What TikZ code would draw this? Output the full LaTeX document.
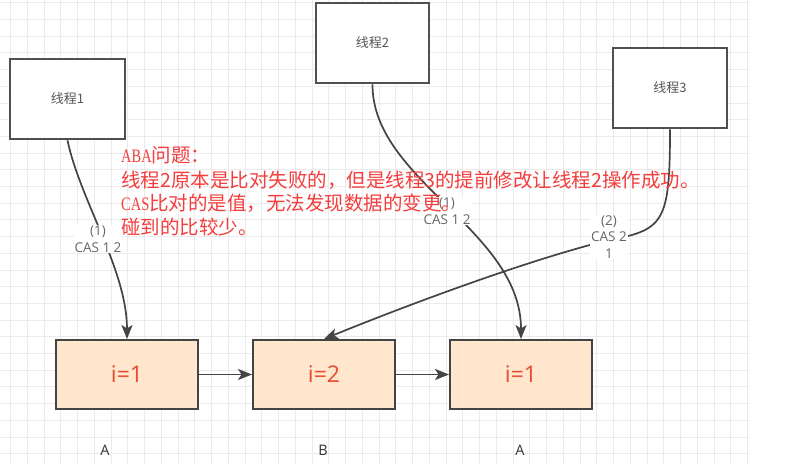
\documentclass[tikz,border=0pt]{standalone}
\usepackage{fontspec}
\setmainfont{Open Sans}
\newfontfamily\cjk{Noto Sans CJK SC}
\newfontfamily\latserif[FakeStretch=0.76]{Liberation Serif}
\usetikzlibrary{arrows.meta}
\definecolor{gridc}{HTML}{EBEBEB}
\definecolor{boxline}{HTML}{505050}
\definecolor{linec}{HTML}{444444}
\definecolor{valfill}{HTML}{FFE6CC}
\definecolor{valtext}{HTML}{EA4A30}
\definecolor{notered}{HTML}{F53D3D}
\definecolor{labelc}{HTML}{666666}
\definecolor{threadtext}{HTML}{555555}
\definecolor{abtext}{HTML}{333333}
\begin{document}
\begin{tikzpicture}[x=1pt,y=-1pt,
  gridline/.style={draw=gridc,line width=0.8pt},
  threadbox/.style={draw=boxline,line width=2.6pt,fill=white,minimum width=114pt,minimum height=80pt,inner sep=0pt,text=threadtext,font=\cjk\fontsize{13}{15}\selectfont},
  valbox/.style={draw=linec,line width=2pt,fill=valfill,minimum width=142pt,minimum height=69pt,inner sep=0pt,text=valtext,font=\fontsize{23}{26}\selectfont},
  conn/.style={draw=linec,line width=1.7pt,-{Stealth[length=14pt,width=11pt,inset=3.5pt]}},
  plainconn/.style={draw=linec,line width=1.7pt},
  edgelabel/.style={fill=white,inner sep=1pt,align=center,text=labelc,font=\fontsize{13.5}{16.5}\selectfont},
  noteline/.style={anchor=base west,inner sep=0pt,text=notered,font=\cjk\fontsize{19.5}{24}\selectfont},
  letter/.style={text=abtext,font=\fontsize{14.5}{16}\selectfont}]
\useasboundingbox (0,0) rectangle (799,464);
\fill[white] (0,0) rectangle (799,464);
% background grid
\foreach \i in {0,...,44} \draw[gridline] ({10.5+16.75*\i},0) -- ({10.5+16.75*\i},464);
\foreach \j in {0,...,27} \draw[gridline] (0,{2.7+16.7*\j}) -- (750,{2.7+16.7*\j});
% thread boxes
\node[threadbox,minimum width=115pt] (t1) at (67.5,99) {线程1};
\node[threadbox,minimum width=113pt] (t2) at (372.5,43) {线程2};
\node[threadbox] (t3) at (670,88) {线程3};
% value boxes
\node[valbox] (v1) at (127,374.5) {i=1};
\node[valbox] (v2) at (324,374.5) {i=2};
\node[valbox] (v3) at (521,374.5) {i=1};
% connectors between value boxes
\draw[conn] (v1.east) -- (v2.west);
\draw[conn] (v2.east) -- (v3.west);
% thread connectors
\draw[conn] (t1.south) .. controls (80,200) and (127,270) .. (v1.north);
\draw[conn] (t2.south) .. controls (372,180) and (521,230) .. (v3.north);
\coordinate (k3) at (609,240);
\draw[plainconn] (t3.south) .. controls (670,222) and (664,230) .. (k3);
\draw[conn] (k3) .. controls (520,262) and (390,312) .. (v2.north);
% edge labels
\node[edgelabel] (l1) at (98,239) {(1)\\CAS 1 2};
\node[edgelabel] (l2) at (447,211) {(1)\\CAS 1 2};
\node[edgelabel] (l3) at (609,237) {(2)\\CAS 2\\1};
% letters
\node[letter] (a1) at (105,450) {A};
\node[letter] (b2) at (323,450) {B};
\node[letter] (a3) at (520,450) {A};
% note
\node[noteline] (n1) at (121,162) {{\latserif\fontsize{19}{22}\selectfont ABA}问题：};
\node[noteline] (n2) at (121,187) {线程2原本是比对失败的，但是线程3的提前修改让线程2操作成功。};
\node[noteline] (n3) at (121,210) {{\latserif\fontsize{19}{22}\selectfont CAS}比对的是值，无法发现数据的变更。};
\node[noteline] (n4) at (121,234) {碰到的比较少。};
\end{tikzpicture}
\end{document}
